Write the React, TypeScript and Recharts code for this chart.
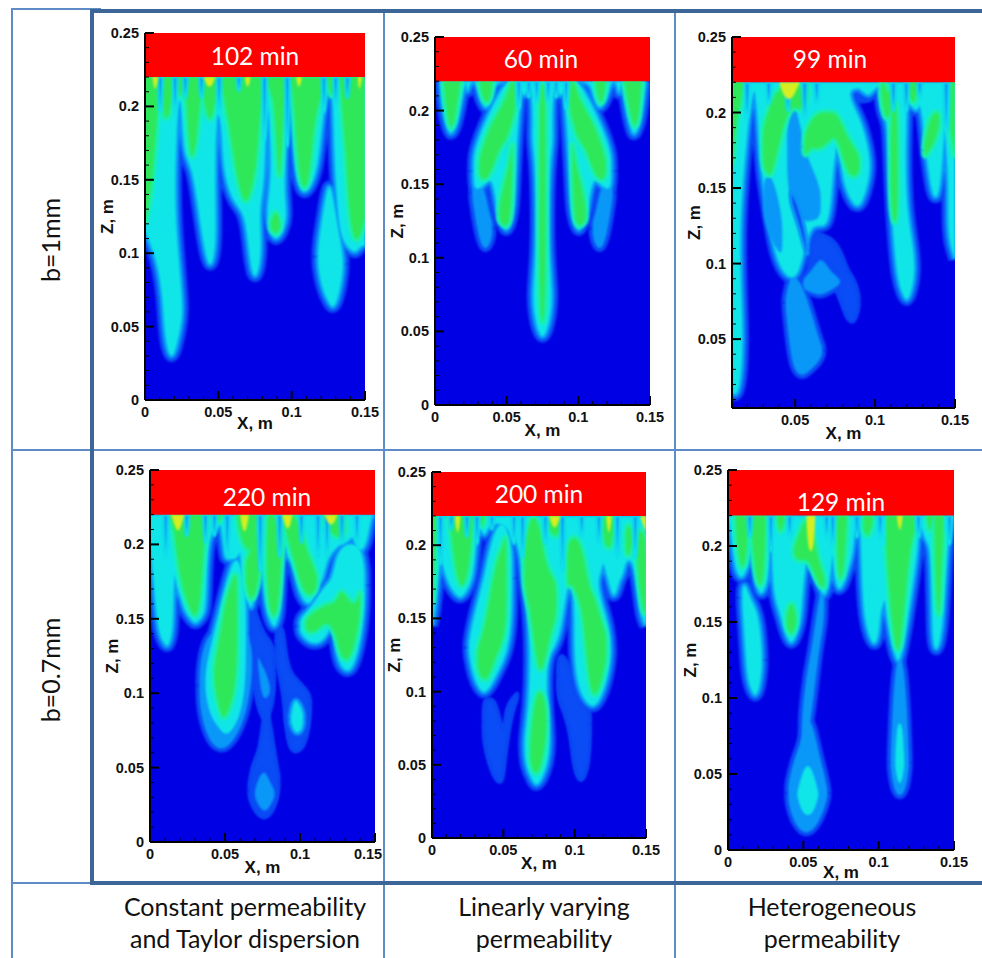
import { Area, AreaChart, Label, XAxis, YAxis } from "recharts";

type Row = number[]; // [x, low z, high z]; high defaults to the top of the plume layer

const TOP = 0.22;
const Z_MAX = 0.25;
const X_MAX = 0.15;
const xTicks = [0, 0.01, 0.02, 0.03, 0.04, 0.05, 0.06, 0.07, 0.08, 0.09, 0.1, 0.11, 0.12, 0.13, 0.14, 0.15];
const zTicks = [0, 0.01, 0.02, 0.03, 0.04, 0.05, 0.06, 0.07, 0.08, 0.09, 0.1, 0.11, 0.12, 0.13, 0.14, 0.15, 0.16, 0.17, 0.18, 0.19, 0.2, 0.21, 0.22, 0.23, 0.24, 0.25];
const majorLabels: Record<string, string> = { "0": "0", "0.05": "0.05", "0.1": "0.1", "0.15": "0.15", "0.2": "0.2", "0.25": "0.25" };

// 102 min
const p1Mid: Row[][] = [
  [[0, 0.115], [0.005, 0.103], [0.009, 0.09], [0.012, 0.07], [0.013, 0.05], [0.015, 0.035], [0.018, 0.028], [0.021, 0.034], [0.024, 0.048], [0.026, 0.06], [0.024, 0.085], [0.021, 0.12], [0.0205, 0.15], [0.0215, 0.18], [0.023, 0.205], [0.0245, 0.205], [0.026, 0.175], [0.028, 0.165], [0.032, 0.157], [0.035, 0.14], [0.038, 0.118], [0.041, 0.1], [0.044, 0.09], [0.047, 0.096], [0.0485, 0.112], [0.0478, 0.14], [0.048, 0.175], [0.0495, 0.195], [0.051, 0.193], [0.0525, 0.18], [0.053, 0.165], [0.055, 0.15], [0.06, 0.135], [0.067, 0.128], [0.0695, 0.115], [0.072, 0.09], [0.075, 0.082], [0.078, 0.09], [0.0795, 0.105], [0.078, 0.128], [0.08, 0.14], [0.0815, 0.155], [0.082, 0.175], [0.084, 0.2], [0.0855, 0.175], [0.086, 0.15], [0.083, 0.13], [0.084, 0.118], [0.089, 0.107], [0.094, 0.115], [0.097, 0.125], [0.095, 0.14], [0.0955, 0.16], [0.097, 0.205], [0.099, 0.215], [0.1005, 0.19], [0.102, 0.165], [0.105, 0.145], [0.109, 0.14], [0.114, 0.147], [0.118, 0.16], [0.12, 0.18], [0.123, 0.205], [0.126, 0.216], [0.128, 0.214], [0.129, 0.17], [0.13, 0.15], [0.132, 0.12], [0.135, 0.108], [0.14, 0.102], [0.144, 0.1], [0.147, 0.105], [0.15, 0.105]],
  [[0.118, 0.09, 0.105], [0.121, 0.075, 0.125], [0.125, 0.067, 0.15], [0.128, 0.062, 0.14], [0.131, 0.067, 0.12], [0.134, 0.08, 0.105], [0.135, 0.09, 0.095]],
];
const p1Green: Row[][] = [
  [[0, 0.12], [0.004, 0.14], [0.007, 0.175], [0.009, 0.205], [0.011, 0.218], [0.012, 0.2], [0.014, 0.19], [0.017, 0.195], [0.019, 0.215], [0.021, 0.22], [0.0225, 0.21], [0.0245, 0.205], [0.026, 0.215], [0.028, 0.21], [0.03, 0.175], [0.032, 0.162], [0.035, 0.175], [0.037, 0.2], [0.039, 0.212], [0.041, 0.2], [0.044, 0.188], [0.047, 0.198], [0.049, 0.21], [0.051, 0.22], [0.053, 0.21], [0.056, 0.195], [0.06, 0.17], [0.063, 0.15], [0.068, 0.132], [0.072, 0.14], [0.076, 0.16], [0.078, 0.19], [0.08, 0.21], [0.082, 0.22], [0.085, 0.21], [0.088, 0.205], [0.0905, 0.16], [0.092, 0.145], [0.094, 0.19], [0.096, 0.21], [0.098, 0.22], [0.101, 0.21], [0.103, 0.18], [0.105, 0.155], [0.108, 0.142], [0.112, 0.15], [0.114, 0.175], [0.117, 0.198], [0.12, 0.205], [0.123, 0.22], [0.126, 0.21], [0.128, 0.205], [0.13, 0.22], [0.133, 0.22], [0.135, 0.19], [0.137, 0.17], [0.139, 0.13], [0.142, 0.11], [0.146, 0.108], [0.15, 0.125]],
  [[0.086, 0.116, 0.122], [0.089, 0.113, 0.13], [0.092, 0.116, 0.122]],
];
const p1Yellow: Row[][] = [[[0.005, 0.22], [0.007, 0.208], [0.009, 0.22]], [[0.04, 0.22], [0.044, 0.21], [0.048, 0.22]], [[0.068, 0.22], [0.07, 0.21], [0.072, 0.22]], [[0.103, 0.22], [0.105, 0.21], [0.107, 0.22]], [[0.145, 0.22], [0.146, 0.208], [0.148, 0.22]]];
const p1Slits: number[][] = [[0.0105, 0.195], [0.0205, 0.195], [0.0275, 0.205], [0.0385, 0.205], [0.0505, 0.195], [0.064, 0.21], [0.0815, 0.175], [0.097, 0.17], [0.122, 0.195], [0.13, 0.2], [0.138, 0.205]];

// 60 min
const p2Mid: Row[][] = [
  [[0.004, 0.22], [0.005, 0.205], [0.007, 0.195], [0.0105, 0.181], [0.015, 0.19], [0.018, 0.205], [0.02, 0.215], [0.0215, 0.22], [0.0225, 0.21], [0.0245, 0.22], [0.029, 0.22], [0.031, 0.21], [0.035, 0.2], [0.039, 0.205], [0.041, 0.215], [0.043, 0.22], [0.058, 0.22], [0.06, 0.213], [0.063, 0.208], [0.065, 0.217], [0.067, 0.217], [0.0685, 0.195], [0.0675, 0.18], [0.07, 0.165], [0.071, 0.13], [0.0705, 0.1], [0.068, 0.075], [0.0695, 0.06], [0.072, 0.05], [0.075, 0.045], [0.078, 0.05], [0.0805, 0.06], [0.082, 0.075], [0.0795, 0.1], [0.079, 0.13], [0.08, 0.165], [0.0825, 0.18], [0.0815, 0.195], [0.083, 0.217], [0.085, 0.217], [0.087, 0.208], [0.09, 0.213], [0.092, 0.22], [0.108, 0.22], [0.11, 0.212], [0.114, 0.2], [0.118, 0.205], [0.121, 0.212], [0.123, 0.22], [0.127, 0.22], [0.1285, 0.208], [0.13, 0.22], [0.131, 0.22], [0.133, 0.205], [0.136, 0.19], [0.139, 0.181], [0.143, 0.192], [0.145, 0.205], [0.147, 0.22]],
  [[0.027, 0.148, 0.17], [0.03, 0.146, 0.18], [0.035, 0.15, 0.192], [0.04, 0.155, 0.203], [0.043, 0.135, 0.208], [0.044, 0.13, 0.21], [0.047, 0.123, 0.215], [0.05, 0.117, 0.218], [0.053, 0.125, 0.22], [0.055, 0.135, 0.22], [0.056, 0.16, 0.22], [0.058, 0.19, 0.22], [0.06, 0.215, 0.22]],
  [[0.09, 0.215, 0.22], [0.092, 0.19, 0.22], [0.094, 0.16, 0.22], [0.095, 0.135, 0.22], [0.097, 0.125, 0.22], [0.1, 0.117, 0.218], [0.103, 0.123, 0.215], [0.106, 0.13, 0.21], [0.107, 0.135, 0.208], [0.11, 0.155, 0.203], [0.115, 0.15, 0.192], [0.12, 0.146, 0.18], [0.123, 0.148, 0.17]],
];
const p2Light: Row[][] = [
  [[0.026, 0.14, 0.148], [0.03, 0.115, 0.15], [0.034, 0.105, 0.15], [0.038, 0.108, 0.13], [0.04, 0.115, 0.125]],
  [[0.11, 0.115, 0.125], [0.112, 0.108, 0.13], [0.116, 0.105, 0.15], [0.12, 0.115, 0.15], [0.124, 0.14, 0.148]],
];
const p2Green: Row[][] = [
  [[0.006, 0.22], [0.008, 0.2], [0.011, 0.185], [0.014, 0.195], [0.016, 0.21], [0.018, 0.22]],
  [[0.031, 0.22], [0.033, 0.21], [0.036, 0.204], [0.039, 0.21], [0.04, 0.22]],
  [[0.031, 0.155, 0.168], [0.035, 0.152, 0.18], [0.04, 0.16, 0.192], [0.045, 0.175, 0.2], [0.05, 0.18, 0.21], [0.053, 0.19, 0.22], [0.056, 0.2, 0.22]],
  [[0.045, 0.125, 0.135], [0.048, 0.122, 0.15], [0.051, 0.122, 0.16], [0.053, 0.13, 0.17], [0.054, 0.16, 0.18]],
  [[0.073, 0.07, 0.215], [0.075, 0.05, 0.22], [0.077, 0.07, 0.215]],
  [[0.094, 0.2, 0.22], [0.097, 0.19, 0.22], [0.1, 0.18, 0.21], [0.105, 0.175, 0.2], [0.11, 0.16, 0.192], [0.115, 0.152, 0.18], [0.119, 0.155, 0.168]],
  [[0.096, 0.16, 0.18], [0.097, 0.13, 0.17], [0.099, 0.122, 0.16], [0.102, 0.122, 0.15], [0.105, 0.125, 0.135]],
  [[0.112, 0.22], [0.114, 0.207], [0.117, 0.204], [0.119, 0.22]],
  [[0.132, 0.22], [0.134, 0.21], [0.139, 0.185], [0.142, 0.195], [0.144, 0.22]],
];
const p2Slits: number[][] = [[0.0655, 0.208], [0.071, 0.205], [0.079, 0.205], [0.0845, 0.208], [0.0585, 0.2], [0.0915, 0.2]];

// 99 min
const p3Medium: Row[][] = [
  [[0.058, 0.09, 0.125], [0.065, 0.09, 0.12], [0.07, 0.09, 0.118], [0.075, 0.085, 0.115], [0.08, 0.07, 0.105], [0.083, 0.062, 0.095], [0.087, 0.06, 0.09], [0.09, 0.07, 0.08]],
  [[0.08, 0.207, 0.22], [0.09, 0.207, 0.22], [0.098, 0.207, 0.22]],
];
const p3Light: Row[][] = [
  [[0.044, 0.07, 0.078], [0.047, 0.04, 0.092], [0.05, 0.028, 0.092], [0.055, 0.025, 0.085], [0.06, 0.03, 0.068], [0.065, 0.035, 0.05], [0.067, 0.04, 0.045]],
  [[0.055, 0.083, 0.09], [0.06, 0.081, 0.095], [0.065, 0.079, 0.103], [0.068, 0.08, 0.102], [0.072, 0.082, 0.095], [0.078, 0.086, 0.09]],
];
const p3Mid: Row[][] = [
  [[0.0105, 0.015], [0.013, 0.012], [0.016, 0.02], [0.0175, 0.05], [0.016, 0.085], [0.0155, 0.12], [0.017, 0.15], [0.0195, 0.18], [0.022, 0.205], [0.0245, 0.215], [0.026, 0.205], [0.0275, 0.18], [0.029, 0.16], [0.032, 0.14], [0.035, 0.12], [0.038, 0.105], [0.042, 0.095], [0.047, 0.09], [0.052, 0.092], [0.056, 0.11], [0.06, 0.125], [0.066, 0.125], [0.07, 0.125], [0.0725, 0.14], [0.0735, 0.16], [0.076, 0.178], [0.0785, 0.17], [0.08, 0.155], [0.083, 0.146], [0.087, 0.138], [0.091, 0.138], [0.095, 0.15], [0.0975, 0.165], [0.095, 0.18], [0.091, 0.195], [0.086, 0.205], [0.083, 0.215], [0.09, 0.216], [0.096, 0.21], [0.099, 0.215], [0.103, 0.218], [0.1035, 0.205], [0.1055, 0.197], [0.108, 0.193], [0.109, 0.165], [0.11, 0.14], [0.112, 0.11], [0.114, 0.09], [0.117, 0.08], [0.12, 0.074], [0.123, 0.082], [0.125, 0.095], [0.124, 0.11], [0.12, 0.135], [0.119, 0.165], [0.1195, 0.19], [0.12, 0.21], [0.122, 0.205], [0.126, 0.2], [0.128, 0.205], [0.13, 0.195], [0.131, 0.18], [0.133, 0.165], [0.135, 0.15], [0.137, 0.143], [0.14, 0.145], [0.142, 0.165], [0.1435, 0.19], [0.145, 0.17], [0.146, 0.15], [0.1455, 0.125], [0.147, 0.112], [0.15, 0.103]],
];
const p3Cuts: Row[][] = [
  [[0.047, 0.14, 0.15], [0.052, 0.125, 0.14], [0.056, 0.108, 0.125], [0.058, 0.105, 0.112]],
];
const p3LightCuts: Row[][] = [
  [[0.045, 0.15, 0.2], [0.05, 0.13, 0.21], [0.056, 0.128, 0.175], [0.06, 0.128, 0.165], [0.066, 0.13, 0.15]],
  [[0.03, 0.13, 0.155], [0.034, 0.118, 0.16], [0.038, 0.11, 0.15], [0.042, 0.105, 0.13]],
];
const p3Green: Row[][] = [
  [[0.0105, 0.165], [0.012, 0.18], [0.014, 0.2], [0.016, 0.205], [0.018, 0.22]],
  [[0.03, 0.165, 0.19], [0.033, 0.158, 0.2], [0.036, 0.16, 0.21], [0.04, 0.18, 0.215], [0.045, 0.2, 0.22], [0.05, 0.205, 0.22], [0.054, 0.2, 0.215], [0.058, 0.21, 0.22]],
  [[0.056, 0.17, 0.185], [0.06, 0.178, 0.195], [0.065, 0.175, 0.2], [0.07, 0.18, 0.2], [0.075, 0.185, 0.2], [0.078, 0.178, 0.195], [0.082, 0.162, 0.185], [0.086, 0.157, 0.178], [0.09, 0.16, 0.172]],
  [[0.104, 0.21, 0.22], [0.106, 0.198, 0.22], [0.108, 0.196, 0.21], [0.11, 0.2, 0.22]],
  [[0.11, 0.14, 0.2], [0.112, 0.125, 0.21], [0.114, 0.13, 0.2]],
  [[0.12, 0.22], [0.122, 0.208], [0.125, 0.205], [0.127, 0.22]],
  [[0.131, 0.17, 0.18], [0.134, 0.175, 0.195], [0.137, 0.18, 0.2], [0.14, 0.19, 0.2]],
  [[0.147, 0.19], [0.15, 0.17]],
];
const p3Yellow: Row[][] = [[[0.04, 0.22], [0.043, 0.21], [0.047, 0.208], [0.05, 0.213], [0.053, 0.22]]];
const p3Slits: number[][] = [[0.02, 0.195], [0.0335, 0.205], [0.0455, 0.2], [0.056, 0.195], [0.0635, 0.205], [0.1115, 0.2], [0.1195, 0.2], [0.128, 0.21], [0.1445, 0.185]];

// 220 min
const p4Medium: Row[][] = [
  [[0.066, 0.13, 0.158], [0.069, 0.105, 0.16], [0.072, 0.09, 0.15], [0.076, 0.08, 0.14], [0.08, 0.085, 0.135], [0.083, 0.1, 0.13]],
  [[0.084, 0.12, 0.145], [0.089, 0.1, 0.145], [0.09, 0.08, 0.13], [0.093, 0.062, 0.115], [0.097, 0.06, 0.11], [0.102, 0.062, 0.105], [0.106, 0.075, 0.1], [0.107, 0.09, 0.095]],
  [[0.066, 0.03, 0.04], [0.069, 0.022, 0.055], [0.073, 0.017, 0.06], [0.076, 0.016, 0.09], [0.079, 0.017, 0.09], [0.083, 0.022, 0.06], [0.086, 0.035, 0.045]],
];
const p4Light: Row[][] = [
  [[0.07, 0.03, 0.035], [0.073, 0.023, 0.045], [0.077, 0.02, 0.048], [0.08, 0.024, 0.04], [0.083, 0.03, 0.035]],
  [[0.072, 0.12, 0.125], [0.074, 0.1, 0.12], [0.077, 0.095, 0.115], [0.08, 0.1, 0.105]],
  [[0.033, 0.09, 0.12], [0.038, 0.07, 0.14], [0.045, 0.062, 0.14], [0.052, 0.063, 0.14], [0.06, 0.075, 0.15], [0.065, 0.09, 0.14], [0.068, 0.11, 0.13]],
];
const p4Mid: Row[][] = [
  [[0, 0.2], [0.002, 0.18], [0.004, 0.155], [0.006, 0.14], [0.009, 0.134], [0.012, 0.13], [0.015, 0.14], [0.0155, 0.155], [0.0158, 0.17], [0.0165, 0.18], [0.018, 0.17], [0.0205, 0.165], [0.023, 0.155], [0.027, 0.15], [0.03, 0.146], [0.034, 0.15], [0.037, 0.155], [0.0375, 0.17], [0.038, 0.185], [0.039, 0.2], [0.042, 0.21], [0.045, 0.21], [0.047, 0.214], [0.049, 0.2], [0.05, 0.19], [0.053, 0.19], [0.058, 0.19], [0.06, 0.195], [0.0615, 0.175], [0.063, 0.165], [0.066, 0.16], [0.0675, 0.156], [0.069, 0.162], [0.071, 0.175], [0.072, 0.19], [0.073, 0.195], [0.075, 0.18], [0.077, 0.16], [0.08, 0.148], [0.083, 0.143], [0.086, 0.15], [0.087, 0.165], [0.088, 0.19], [0.09, 0.2], [0.092, 0.19], [0.094, 0.19], [0.097, 0.18], [0.1, 0.165], [0.106, 0.158], [0.11, 0.165], [0.113, 0.175], [0.115, 0.175], [0.118, 0.19], [0.122, 0.195], [0.126, 0.2], [0.13, 0.2], [0.135, 0.205], [0.138, 0.198], [0.141, 0.195], [0.144, 0.2], [0.146, 0.21], [0.148, 0.22], [0.15, 0.22]],
  [[0.037, 0.1, 0.115], [0.04, 0.085, 0.13], [0.045, 0.078, 0.15], [0.05, 0.071, 0.17], [0.055, 0.075, 0.19], [0.06, 0.085, 0.19], [0.063, 0.1, 0.17], [0.064, 0.12, 0.16]],
  [[0.1, 0.14, 0.15], [0.105, 0.135, 0.155], [0.11, 0.133, 0.162], [0.115, 0.135, 0.17], [0.12, 0.142, 0.175], [0.122, 0.152, 0.18], [0.124, 0.13, 0.19], [0.126, 0.12, 0.195], [0.13, 0.115, 0.2], [0.134, 0.115, 0.2], [0.138, 0.125, 0.2], [0.141, 0.14, 0.195], [0.143, 0.16, 0.185]],
  [[0.094, 0.08, 0.085], [0.096, 0.075, 0.095], [0.098, 0.073, 0.095], [0.101, 0.075, 0.09], [0.102, 0.08, 0.085]],
];
const p4Green: Row[][] = [
  [[0.013, 0.22], [0.016, 0.21], [0.019, 0.185], [0.022, 0.17], [0.026, 0.158], [0.03, 0.15], [0.033, 0.158], [0.035, 0.185], [0.037, 0.215], [0.04, 0.22]],
  [[0.044, 0.22], [0.046, 0.213], [0.048, 0.22]],
  [[0.058, 0.22], [0.06, 0.205], [0.064, 0.197], [0.068, 0.195], [0.071, 0.21], [0.073, 0.22]],
  [[0.064, 0.172, 0.19], [0.067, 0.162, 0.195], [0.07, 0.165, 0.21], [0.073, 0.18, 0.21]],
  [[0.043, 0.105, 0.12], [0.047, 0.085, 0.14], [0.05, 0.083, 0.16], [0.053, 0.09, 0.17], [0.056, 0.1, 0.18], [0.058, 0.12, 0.18]],
  [[0.078, 0.175, 0.22], [0.08, 0.155, 0.22], [0.083, 0.15, 0.22], [0.086, 0.16, 0.21], [0.088, 0.2, 0.22]],
  [[0.09, 0.21, 0.22], [0.096, 0.19, 0.22], [0.1, 0.175, 0.215], [0.103, 0.168, 0.2], [0.107, 0.165, 0.19], [0.111, 0.17, 0.18]],
  [[0.104, 0.142, 0.15], [0.11, 0.14, 0.155], [0.118, 0.15, 0.16], [0.124, 0.14, 0.16], [0.127, 0.125, 0.17], [0.131, 0.122, 0.165], [0.134, 0.125, 0.16], [0.138, 0.14, 0.16], [0.14, 0.155, 0.17]],
  [[0.116, 0.215, 0.22], [0.122, 0.205, 0.22], [0.13, 0.205, 0.22]],
];
const p4Yellow: Row[][] = [[[0.014, 0.22], [0.018, 0.208], [0.02, 0.21], [0.023, 0.22]], [[0.06, 0.22], [0.063, 0.203], [0.066, 0.22]], [[0.088, 0.22], [0.092, 0.206], [0.095, 0.22]], [[0.116, 0.22], [0.121, 0.21], [0.125, 0.22]]];
const p4Slits: number[][] = [[0.0105, 0.19], [0.0245, 0.205], [0.037, 0.2], [0.043, 0.205], [0.0515, 0.19], [0.0735, 0.18], [0.0865, 0.19], [0.101, 0.2], [0.112, 0.19], [0.118, 0.19], [0.128, 0.2], [0.138, 0.2]];

// 200 min
const p5Medium: Row[][] = [
  [[0.036, 0.065, 0.095], [0.04, 0.05, 0.095], [0.044, 0.04, 0.095], [0.048, 0.037, 0.08], [0.05, 0.04, 0.07], [0.052, 0.06, 0.09], [0.056, 0.085, 0.095], [0.06, 0.095, 0.1]],
  [[0.088, 0.095, 0.125], [0.093, 0.085, 0.125], [0.097, 0.07, 0.115], [0.099, 0.05, 0.11], [0.102, 0.04, 0.1], [0.106, 0.038, 0.09], [0.11, 0.05, 0.09], [0.111, 0.07, 0.085]],
];
const p5Mid: Row[][] = [
  [[0, 0.145], [0.002, 0.155], [0.004, 0.175], [0.006, 0.192], [0.008, 0.185], [0.011, 0.175], [0.015, 0.168], [0.02, 0.163], [0.024, 0.168], [0.028, 0.175], [0.03, 0.19], [0.031, 0.205], [0.033, 0.212], [0.035, 0.21], [0.037, 0.205], [0.04, 0.215], [0.05, 0.215], [0.054, 0.21], [0.056, 0.2], [0.058, 0.205], [0.06, 0.2], [0.0625, 0.19], [0.064, 0.175], [0.067, 0.16], [0.069, 0.13], [0.068, 0.09], [0.064, 0.065], [0.066, 0.048], [0.07, 0.04], [0.073, 0.035], [0.077, 0.04], [0.081, 0.05], [0.083, 0.065], [0.081, 0.085], [0.08, 0.11], [0.082, 0.125], [0.086, 0.13], [0.09, 0.14], [0.093, 0.16], [0.095, 0.17], [0.097, 0.178], [0.099, 0.17], [0.1, 0.15], [0.0995, 0.125], [0.102, 0.105], [0.106, 0.095], [0.113, 0.088], [0.118, 0.095], [0.122, 0.105], [0.126, 0.125], [0.124, 0.145], [0.119, 0.16], [0.116, 0.175], [0.118, 0.18], [0.12, 0.188], [0.124, 0.175], [0.127, 0.163], [0.13, 0.17], [0.131, 0.175], [0.134, 0.18], [0.136, 0.19], [0.14, 0.19], [0.143, 0.18], [0.145, 0.165], [0.147, 0.15], [0.15, 0.145]],
  [[0.026, 0.125, 0.135], [0.029, 0.11, 0.15], [0.033, 0.102, 0.165], [0.037, 0.098, 0.18], [0.042, 0.105, 0.205], [0.047, 0.115, 0.215], [0.052, 0.125, 0.215], [0.055, 0.14, 0.2], [0.056, 0.16, 0.195]],
];
const p5Green: Row[][] = [
  [[0, 0.16], [0.002, 0.19], [0.003, 0.22]],
  [[0.012, 0.22], [0.015, 0.195], [0.018, 0.175], [0.022, 0.17], [0.026, 0.185], [0.028, 0.21], [0.03, 0.22]],
  [[0.033, 0.22], [0.035, 0.21], [0.037, 0.22]],
  [[0.032, 0.115, 0.13], [0.036, 0.107, 0.14], [0.04, 0.11, 0.16], [0.045, 0.125, 0.19], [0.05, 0.135, 0.2], [0.052, 0.15, 0.21]],
  [[0.065, 0.17, 0.2], [0.068, 0.16, 0.215], [0.071, 0.14, 0.22], [0.075, 0.11, 0.215], [0.079, 0.12, 0.19], [0.083, 0.14, 0.18], [0.087, 0.15, 0.175]],
  [[0.069, 0.05, 0.07], [0.073, 0.042, 0.1], [0.077, 0.05, 0.1], [0.08, 0.07, 0.09]],
  [[0.082, 0.21, 0.22], [0.087, 0.205, 0.22], [0.09, 0.21, 0.22]],
  [[0.095, 0.17, 0.2], [0.098, 0.175, 0.205], [0.102, 0.165, 0.205], [0.106, 0.155, 0.195], [0.11, 0.105, 0.17], [0.114, 0.095, 0.165], [0.118, 0.105, 0.15], [0.122, 0.12, 0.14]],
  [[0.12, 0.205, 0.22], [0.124, 0.195, 0.22], [0.127, 0.205, 0.22]],
  [[0.136, 0.195, 0.21], [0.138, 0.192, 0.215], [0.14, 0.2, 0.21]],
  [[0.144, 0.185, 0.21], [0.147, 0.16, 0.21], [0.15, 0.148, 0.205]],
];
const p5Yellow: Row[][] = [[[0.016, 0.22], [0.018, 0.203], [0.02, 0.22]], [[0.082, 0.22], [0.086, 0.208], [0.09, 0.22]], [[0.122, 0.22], [0.124, 0.203], [0.126, 0.22]], [[0.146, 0.22], [0.149, 0.21], [0.15, 0.21]]];
const p5Slits: number[][] = [[0.006, 0.185], [0.0135, 0.21], [0.0245, 0.205], [0.0315, 0.2], [0.042, 0.21], [0.0575, 0.2], [0.0635, 0.19], [0.0795, 0.2], [0.0915, 0.18], [0.105, 0.205], [0.117, 0.2], [0.13, 0.19], [0.1425, 0.19]];

// 129 min
const p6Light: Row[][] = [
  [[0.04, 0.03, 0.045], [0.044, 0.018, 0.06], [0.048, 0.013, 0.07], [0.052, 0.011, 0.085], [0.056, 0.013, 0.085], [0.06, 0.018, 0.065], [0.064, 0.027, 0.05], [0.066, 0.035, 0.04]],
  [[0.049, 0.06, 0.09], [0.052, 0.07, 0.115], [0.055, 0.085, 0.13], [0.058, 0.11, 0.15], [0.061, 0.135, 0.17], [0.064, 0.15, 0.18]],
  [[0.108, 0.055, 0.06], [0.109, 0.045, 0.09], [0.111, 0.038, 0.12], [0.114, 0.035, 0.13], [0.117, 0.038, 0.12], [0.119, 0.045, 0.09], [0.12, 0.055, 0.06]],
];
const p6Mid: Row[][] = [
  [[0, 0.22], [0.002, 0.21], [0.004, 0.19], [0.006, 0.182], [0.009, 0.178], [0.012, 0.183], [0.014, 0.19], [0.016, 0.205], [0.018, 0.175], [0.022, 0.166], [0.026, 0.175], [0.0275, 0.19], [0.028, 0.215], [0.029, 0.2], [0.03, 0.17], [0.033, 0.16], [0.036, 0.15], [0.039, 0.14], [0.042, 0.135], [0.045, 0.14], [0.048, 0.15], [0.049, 0.16], [0.05, 0.175], [0.052, 0.19], [0.055, 0.186], [0.058, 0.18], [0.061, 0.172], [0.064, 0.166], [0.066, 0.172], [0.068, 0.18], [0.0695, 0.195], [0.071, 0.176], [0.074, 0.17], [0.077, 0.176], [0.08, 0.185], [0.083, 0.195], [0.084, 0.21], [0.086, 0.218], [0.088, 0.215], [0.089, 0.17], [0.091, 0.15], [0.094, 0.14], [0.097, 0.134], [0.1, 0.14], [0.101, 0.155], [0.1025, 0.16], [0.104, 0.165], [0.106, 0.15], [0.109, 0.135], [0.113, 0.12], [0.116, 0.133], [0.119, 0.15], [0.122, 0.17], [0.125, 0.19], [0.126, 0.2], [0.127, 0.215], [0.129, 0.21], [0.131, 0.204], [0.134, 0.2], [0.135, 0.18], [0.1355, 0.15], [0.136, 0.137], [0.138, 0.13], [0.141, 0.137], [0.143, 0.155], [0.145, 0.19], [0.147, 0.21], [0.149, 0.22], [0.15, 0.22]],
  [[0.0095, 0.16, 0.172], [0.011, 0.14, 0.175], [0.0125, 0.115, 0.172], [0.015, 0.106, 0.165], [0.018, 0.1, 0.16], [0.021, 0.106, 0.15], [0.0225, 0.12, 0.13]],
  [[0.044, 0.183, 0.2], [0.048, 0.185, 0.21], [0.052, 0.19, 0.215]],
  [[0.046, 0.035, 0.038], [0.049, 0.025, 0.05], [0.053, 0.022, 0.058], [0.057, 0.025, 0.05], [0.06, 0.035, 0.038]],
  [[0.111, 0.055, 0.06], [0.112, 0.048, 0.08], [0.114, 0.042, 0.085], [0.116, 0.048, 0.08], [0.117, 0.055, 0.06]],
];
const p6Green: Row[][] = [
  [[0.005, 0.22], [0.006, 0.2], [0.009, 0.183], [0.012, 0.19], [0.013, 0.21], [0.014, 0.22]],
  [[0.015, 0.22], [0.017, 0.19], [0.021, 0.17], [0.024, 0.18], [0.025, 0.22]],
  [[0.032, 0.22], [0.035, 0.205], [0.038, 0.22]],
  [[0.039, 0.147, 0.155], [0.042, 0.14, 0.165], [0.045, 0.148, 0.155]],
  [[0.044, 0.193, 0.2], [0.048, 0.19, 0.21], [0.052, 0.192, 0.22], [0.056, 0.186, 0.21], [0.06, 0.175, 0.19], [0.064, 0.172, 0.18]],
  [[0.072, 0.22], [0.073, 0.18], [0.076, 0.176], [0.078, 0.2], [0.079, 0.22]],
  [[0.09, 0.21, 0.22], [0.093, 0.205, 0.22], [0.096, 0.215, 0.22]],
  [[0.105, 0.2], [0.107, 0.17], [0.11, 0.14], [0.113, 0.128], [0.115, 0.14], [0.118, 0.17], [0.121, 0.2], [0.124, 0.21]],
  [[0.132, 0.22], [0.134, 0.206], [0.136, 0.22]],
  [[0.137, 0.215], [0.138, 0.17], [0.14, 0.148], [0.141, 0.17], [0.143, 0.21]],
];
const p6Yellow: Row[][] = [[[0.052, 0.22], [0.053, 0.2], [0.055, 0.195], [0.057, 0.2], [0.058, 0.22]], [[0.112, 0.22], [0.114, 0.206], [0.116, 0.22]]];
const p6Slits: number[][] = [[0.0145, 0.205], [0.0285, 0.195], [0.041, 0.205], [0.0655, 0.205], [0.0695, 0.2], [0.0855, 0.205], [0.101, 0.205], [0.1265, 0.205], [0.147, 0.2]];

const COLORS = { dark: "#0000e4", medium: "#0a4cf5", light: "#0a98f8", cyan: "#10e6e8", teal: "#1af0b0", green: "#2ee85a", yellow: "#d8ee20", red: "#ff0000" };
const SOFT = { filter: "blur(0.8px)" };
const SLIT_HALF_WIDTH = 0.0018;

interface PanelProps {
  time: string;
  left: number;
  top: number;
  width: number;
  height: number;
  xMin?: number;
  zMin?: number;
  timeX: number;
  timeY: number;
  xTitleOffset?: number;
  lastLabelDx?: number;
  medium?: Row[][];
  light?: Row[][];
  mid: Row[][];
  cuts?: Row[][];
  lightCuts?: Row[][];
  green: Row[][];
  yellow?: Row[][];
  slits?: number[][];
}

const panels: PanelProps[] = [
  { time: "102 min", left: 145, top: 33, width: 220, height: 367, timeX: 255, timeY: 56, xTitleOffset: 16, mid: p1Mid, green: p1Green, yellow: p1Yellow, slits: p1Slits },
  { time: "60 min", left: 435, top: 37, width: 215, height: 368, timeX: 541, timeY: 59, mid: p2Mid, light: p2Light, green: p2Green, slits: p2Slits },
  { time: "99 min", left: 732, top: 37, width: 223, height: 371, xMin: 0.0105, zMin: 0.0044, timeX: 830, timeY: 59, medium: p3Medium, light: p3Light, mid: p3Mid, cuts: p3Cuts, lightCuts: p3LightCuts, green: p3Green, yellow: p3Yellow, slits: p3Slits },
  { time: "220 min", left: 150, top: 470, width: 225, height: 372, timeX: 267, timeY: 497, lastLabelDx: -7, medium: p4Medium, light: p4Light, mid: p4Mid, green: p4Green, yellow: p4Yellow, slits: p4Slits },
  { time: "200 min", left: 432, top: 472, width: 214, height: 366, timeX: 539, timeY: 494, medium: p5Medium, mid: p5Mid, green: p5Green, yellow: p5Yellow, slits: p5Slits },
  { time: "129 min", left: 728, top: 470, width: 226, height: 380, timeX: 841, timeY: 502, xTitleOffset: 17, light: p6Light, mid: p6Mid, green: p6Green, yellow: p6Yellow, slits: p6Slits },
];

// blobs get rounded ends, channel tops are doubled so the basis curve reaches them
const toData = (rows: Row[], shaped: boolean) => {
  let shapedRows = rows;
  if (shaped && rows[0].length === 3) {
    const cap = ([x, low, high]: Row) => [x, (low + high) / 2, (low + high) / 2];
    shapedRows = [cap(rows[0]), ...rows, cap(rows[rows.length - 1])];
  } else if (shaped) {
    shapedRows = rows.flatMap((row, i) => {
      const isTop = i > 0 && i < rows.length - 1 && row[1] > rows[i - 1][1] && row[1] > rows[i + 1][1];
      return isTop ? [row, row] : [row];
    });
  }
  return shapedRows.map(([x, low, high = TOP]) => ({ x, range: [low, high] }));
};

const slitRows = ([x, z]: number[]): Row[] => [
  [x - SLIT_HALF_WIDTH, TOP],
  [x - SLIT_HALF_WIDTH / 2, z],
  [x + SLIT_HALF_WIDTH / 2, z],
  [x + SLIT_HALF_WIDTH, TOP],
];

const XTick = ({ x, y, payload, lastLabelDx = 0 }: any) => {
  const text = majorLabels[String(payload.value)];
  return (
    <g>
      <line x1={x} x2={x} y1={y} y2={y - (text ? 9 : 4)} stroke="#000" strokeWidth={text ? 2 : 1} />
      {text && (
        <text x={payload.value === X_MAX ? x + lastLabelDx : x} y={y + 17} textAnchor="middle" fontSize={14.5} fontWeight={700} fontFamily="Liberation Sans" fill="#111">
          {text}
        </text>
      )}
    </g>
  );
};

const YTick = ({ x, y, payload }: any) => {
  const text = majorLabels[String(payload.value)];
  return (
    <g>
      <line x1={x} x2={x + (text ? 9 : 4)} y1={y} y2={y} stroke="#000" strokeWidth={text ? 2 : 1} />
      {text && (
        <text x={x - 6} y={y + 5} textAnchor="end" fontSize={14.5} fontWeight={700} fontFamily="Liberation Sans" fill="#111">
          {text}
        </text>
      )}
    </g>
  );
};

const band = (key: string, rows: Row[], fill: string, stroke = "none", strokeWidth = 0, soft = true) => (
  <Area
    key={key}
    data={toData(rows, soft)}
    dataKey="range"
    type="basis"
    fill={fill}
    fillOpacity={1}
    stroke={stroke}
    strokeWidth={strokeWidth}
    strokeLinejoin="round"
    style={soft ? SOFT : undefined}
    dot={false}
    activeDot={false}
    isAnimationActive={false}
  />
);

const Panel = ({ time, left, top, width, height, xMin = 0, zMin = 0, timeX, timeY, xTitleOffset = 14, lastLabelDx = 0, medium = [], light = [], mid, cuts = [], lightCuts = [], green, yellow = [], slits = [] }: PanelProps) => {
  const marginLeft = 50;
  const marginTop = 12;
  const xAxisHeight = 45;
  const redBand: Row[] = [[xMin, TOP, Z_MAX], [X_MAX, TOP, Z_MAX]];
  return (
    <>
      <div style={{ position: "absolute", left: left - marginLeft, top: top - marginTop }}>
        <AreaChart width={width + marginLeft + 25} height={height + marginTop + xAxisHeight} margin={{ top: marginTop, right: 25, left: 0, bottom: 0 }}>
          <XAxis
            dataKey="x"
            type="number"
            domain={[xMin, X_MAX]}
            ticks={xTicks.filter((t) => t >= xMin)}
            interval={0}
            allowDataOverflow
            height={xAxisHeight}
            tick={<XTick lastLabelDx={lastLabelDx} />}
            tickLine={false}
            tickSize={0}
            tickMargin={0}
            axisLine={{ stroke: "#000", strokeWidth: 2 }}
          >
            <Label value="X, m" position="insideBottom" offset={xTitleOffset} fontSize={17} fontWeight={700} fontFamily="Liberation Sans" fill="#111" />
          </XAxis>
          <YAxis
            type="number"
            domain={[zMin, Z_MAX]}
            ticks={zTicks.filter((t) => t >= zMin)}
            interval={0}
            allowDataOverflow
            width={marginLeft}
            tick={<YTick />}
            tickLine={false}
            tickSize={0}
            tickMargin={0}
            axisLine={{ stroke: "#000", strokeWidth: 2 }}
          >
            <Label value="Z, m" position="center" angle={-90} dx={-13} fontSize={17} fontWeight={700} fontFamily="Liberation Sans" fill="#111" />
          </YAxis>
          {band("bg", [[xMin, zMin, Z_MAX], [X_MAX, zMin, Z_MAX]], COLORS.dark, "none", 0, false)}
          {medium.map((rows, i) => band(`m${i}`, rows, COLORS.medium, COLORS.medium, 3))}
          {light.map((rows, i) => band(`lo${i}`, rows, COLORS.medium, COLORS.medium, 8))}
          {mid.map((rows, i) => band(`mo${i}`, rows, COLORS.medium, COLORS.medium, 13))}
          {light.map((rows, i) => band(`l${i}`, rows, COLORS.light))}
          {mid.map((rows, i) => band(`ml${i}`, rows, COLORS.light, COLORS.light, 6))}
          {mid.map((rows, i) => band(`mc${i}`, rows, COLORS.cyan))}
          {lightCuts.map((rows, i) => band(`lc${i}`, rows, COLORS.light))}
          {cuts.map((rows, i) => band(`c${i}`, rows, COLORS.medium, COLORS.light, 3))}
          {green.map((rows, i) => band(`gt${i}`, rows, COLORS.teal, COLORS.teal, 7))}
          {green.map((rows, i) => band(`g${i}`, rows, COLORS.green))}
          {slits.map((slit, i) => band(`s${i}`, slitRows(slit), COLORS.light, COLORS.cyan, 2))}
          {yellow.map((rows, i) => band(`y${i}`, rows, COLORS.yellow))}
          {band("red", redBand, COLORS.red, "none", 0, false)}
        </AreaChart>
      </div>
      <div style={{ position: "absolute", left: timeX - 60, width: 120, top: timeY - 15, height: 30, lineHeight: "30px", textAlign: "center", color: "#fff", fontFamily: "Lato", fontSize: 24.5 }}>
        {time}
      </div>
    </>
  );
};

const LIGHT_LINE = "#5f8cc6";
const DARK_LINE = "#3c6698";
const frameLines = [
  { left: 11, top: 8, width: 90, height: 2, background: LIGHT_LINE },
  { left: 11, top: 8, width: 2, height: 950, background: LIGHT_LINE },
  { left: 383, top: 11, width: 2, height: 947, background: LIGHT_LINE },
  { left: 674, top: 11, width: 2, height: 947, background: LIGHT_LINE },
  { left: 11, top: 449, width: 971, height: 2, background: LIGHT_LINE },
  { left: 11, top: 882, width: 81, height: 2, background: LIGHT_LINE },
  { left: 90, top: 9, width: 4, height: 875, background: DARK_LINE },
  { left: 90, top: 9, width: 892, height: 4, background: DARK_LINE },
  { left: 90, top: 881, width: 892, height: 4, background: DARK_LINE },
];

const rowTitles = [
  { text: "b=1mm", y: 240 },
  { text: "b=0.7mm", y: 670 },
];
const columnTitles = [
  { lines: ["Constant permeability", "and Taylor dispersion"], x: 245 },
  { lines: ["Linearly varying", "permeability"], x: 544 },
  { lines: ["Heterogeneous", "permeability"], x: 832 },
];

export default function App() {
  return (
    <div style={{ position: "absolute", left: 0, top: 0, width: 982, height: 958, overflow: "hidden", background: "#fff" }}>
      {panels.map((panel) => (
        <Panel key={panel.time} {...panel} />
      ))}
      {frameLines.map((line, i) => (
        <div key={i} style={{ position: "absolute", ...line }} />
      ))}
      {rowTitles.map((title) => (
        <div key={title.text} style={{ position: "absolute", left: 50, top: title.y, width: 0, height: 0, color: "#111", fontFamily: "Lato", fontSize: 25 }}>
          <span style={{ position: "absolute", transform: "translate(-50%,-50%) rotate(-90deg)", whiteSpace: "nowrap" }}>{title.text}</span>
        </div>
      ))}
      {columnTitles.map((title) =>
        title.lines.map((line, i) => (
          <div key={line} style={{ position: "absolute", left: title.x - 150, width: 300, top: 890 + i * 32, height: 32, lineHeight: "32px", textAlign: "center", color: "#111", fontFamily: "Lato", fontSize: 25 }}>
            {line}
          </div>
        ))
      )}
    </div>
  );
}
